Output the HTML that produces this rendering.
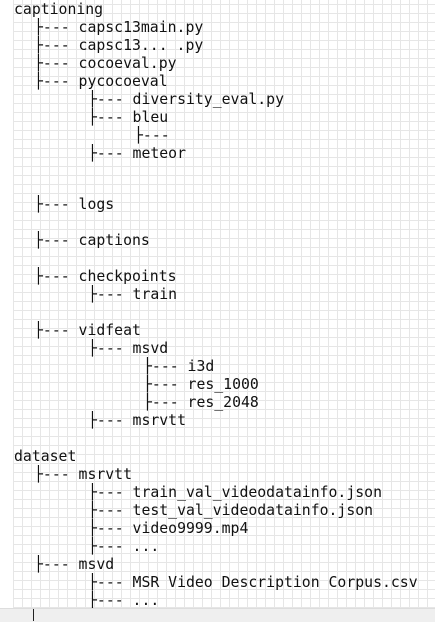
<!DOCTYPE html>
<html><head><style>
html,body{margin:0;padding:0;}
body{width:435px;height:621px;position:relative;overflow:hidden;background:#fff;}
.grid{position:absolute;left:13px;top:0;width:422px;height:608px;
background-image:linear-gradient(to right,#e6e6e6 1px,transparent 1px),linear-gradient(to bottom,#e6e6e6 1px,transparent 1px);
background-size:9px 9px;background-position:0 4px;}
.l{position:absolute;font-family:"DejaVu Sans Mono","Liberation Mono",monospace;font-size:14.8px;line-height:18px;color:#111;white-space:pre;}
.bar{position:absolute;left:0;top:608px;width:435px;height:13px;background:#efefef;border-top:1px solid #ddd;}
.cur{position:absolute;left:33px;top:609px;width:1px;height:12px;background:#222;}
</style></head><body>
<div class="grid"></div>
<div class="l" style="left:14px;top:1px">captioning</div>
<div class="l" style="left:34px;top:19px">├--- capsc13main.py</div>
<div class="l" style="left:34px;top:37px">├--- capsc13... .py</div>
<div class="l" style="left:34px;top:55px">├--- cocoeval.py</div>
<div class="l" style="left:34px;top:73px">├--- pycocoeval</div>
<div class="l" style="left:88px;top:91px">├--- diversity_eval.py</div>
<div class="l" style="left:88px;top:109px">├--- bleu</div>
<div class="l" style="left:134px;top:127px">├---</div>
<div class="l" style="left:88px;top:145px">├--- meteor</div>
<div class="l" style="left:34px;top:196px">├--- logs</div>
<div class="l" style="left:34px;top:232px">├--- captions</div>
<div class="l" style="left:34px;top:268px">├--- checkpoints</div>
<div class="l" style="left:88px;top:286px">├--- train</div>
<div class="l" style="left:34px;top:322px">├--- vidfeat</div>
<div class="l" style="left:88px;top:340px">├--- msvd</div>
<div class="l" style="left:143px;top:358px">├--- i3d</div>
<div class="l" style="left:143px;top:376px">├--- res_1000</div>
<div class="l" style="left:143px;top:394px">├--- res_2048</div>
<div class="l" style="left:88px;top:412px">├--- msrvtt</div>
<div class="l" style="left:14px;top:448px">dataset</div>
<div class="l" style="left:34px;top:466px">├--- msrvtt</div>
<div class="l" style="left:88px;top:484px">├--- train_val_videodatainfo.json</div>
<div class="l" style="left:88px;top:502px">├--- test_val_videodatainfo.json</div>
<div class="l" style="left:88px;top:520px">├--- video9999.mp4</div>
<div class="l" style="left:88px;top:538px">├--- ...</div>
<div class="l" style="left:34px;top:556px">├--- msvd</div>
<div class="l" style="left:88px;top:574px">├--- MSR Video Description Corpus.csv</div>
<div class="l" style="left:88px;top:592px">├--- ...</div>
<div class="bar"></div>
<div class="cur"></div>
</body></html>
